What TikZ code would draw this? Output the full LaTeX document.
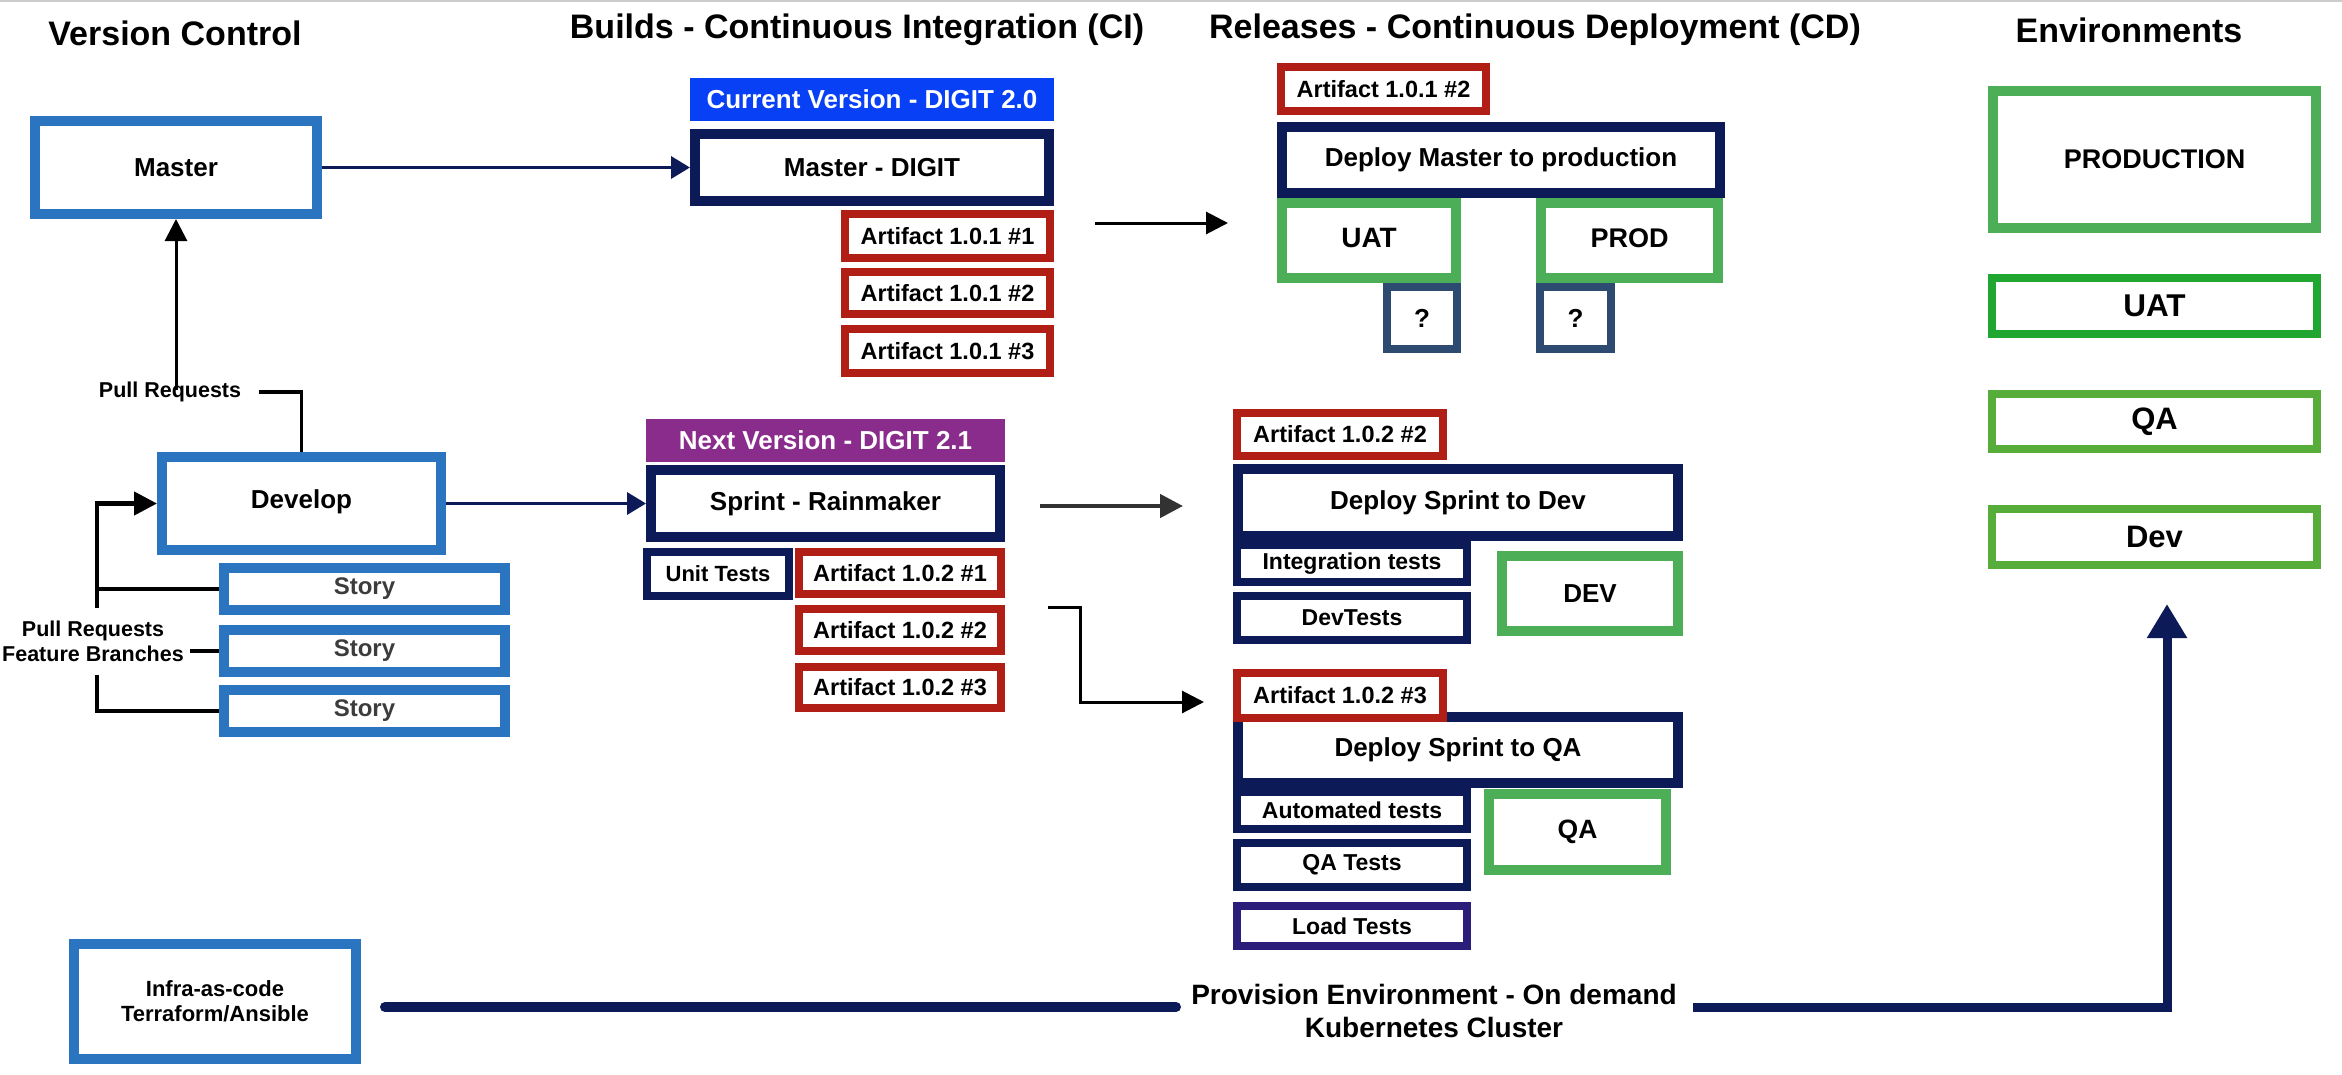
\documentclass[tikz,border=0pt]{standalone}
\usepackage{fontspec}
\setmainfont{Liberation Sans}
\usetikzlibrary{arrows.meta}
\definecolor{cblue}{RGB}{42,116,192}
\definecolor{cnavy}{RGB}{12,26,88}
\definecolor{cred}{RGB}{176,30,22}
\definecolor{cgreen}{RGB}{76,174,87}
\definecolor{cuat}{RGB}{33,166,49}
\definecolor{cqa}{RGB}{86,173,58}
\definecolor{cq}{RGB}{45,75,112}
\definecolor{cver}{RGB}{8,64,246}
\definecolor{cpurple}{RGB}{138,44,140}
\definecolor{cload}{RGB}{43,30,122}
\definecolor{cdark}{RGB}{50,50,50}
\definecolor{cstory}{RGB}{60,60,60}
\begin{document}
\begin{tikzpicture}[x=1pt,y=-1pt,
  box/.style={draw, fill=white, inner sep=0pt, align=center, text=black},
  sz/.style 2 args={minimum width=#1pt, minimum height=#2pt},
  fs/.style={font=\bfseries\fontsize{#1}{#1}\selectfont},
  bluebox/.style={box, draw=cblue, line width=10pt},
  navybox/.style={box, draw=cnavy, line width=10pt},
  navysm/.style={box, draw=cnavy, line width=8pt},
  redbox/.style={box, draw=cred, line width=8pt, fs=23.5},
  greenbox/.style={box, draw=cgreen, line width=10pt},
  uatbox/.style={box, draw=cuat, line width=8pt},
  qabox/.style={box, draw=cqa, line width=8pt},
  qmbox/.style={box, draw=cq, line width=8pt},
  title/.style={inner sep=0pt, fs=34},
  lbl/.style={inner sep=0pt, align=center},
  verlabel/.style={fill=#1, text=white, inner sep=0pt, fs=26},
  navyarrow/.style={draw=cnavy, line width=3.5pt, -{Triangle[length=19pt,width=22pt]}},
  blackarrow/.style={draw=black, line width=3pt, -{Triangle[length=22pt,width=22pt]}},
  blackline/.style={draw=black, line width=3.5pt},
  fbarrow/.style={draw=black, line width=4.5pt, -{Triangle[length=23pt,width=23pt]}},
  grayarrow/.style={draw=cdark, line width=4.5pt, -{Triangle[length=23pt,width=23pt]}},
  bigline/.style={draw=cnavy, line width=10pt},
  bigarrow/.style={draw=cnavy, line width=9pt, -{Triangle[length=34pt,width=38pt]}}
]
\useasboundingbox (0,0) rectangle (2342,1074);
\fill[white] (0,0) rectangle (2342,1074);
\draw[black!20, line width=2pt] (0,1) -- (2342,1);

% titles
\node[title] (tvc) at (175,33) {Version Control};
\node[title] (tci) at (857,30) {Builds - Continuous Integration (CI)};
\node[title] (tcd) at (1535,30) {Releases - Continuous Deployment (CD)};
\node[title] (tenv) at (2129,30) {Environments};

% version control
\node[bluebox, sz={282}{93}, fs=26] (master) at (176,167.5) {Master};
\node[bluebox, sz={279}{93}, fs=26] (develop) at (301.5,503.5) {\raisebox{8pt}{Develop}};
\node[bluebox, sz={281}{42}, fs=24, text=cstory] (story1) at (364.5,589) {Story};
\node[bluebox, sz={281}{42}, fs=24, text=cstory] (story2) at (364.5,651) {Story};
\node[bluebox, sz={281}{42}, fs=24, text=cstory] (story3) at (364.5,711) {Story};
\node[bluebox, sz={282}{115}, fs=22] (infra) at (215,1001.5) {Infra-as-code\\[3pt]Terraform/Ansible};

\node[lbl, fs=21.5] (pr) at (170,392) {Pull Requests};
\node[lbl, fs=21.5] (prfb) at (93,641) {Pull Requests\\[3.5pt]Feature Branches};

% CI
\node[verlabel=cver, sz={364}{43}] (curver) at (872,99.5) {Current Version - DIGIT 2.0};
\node[navybox, sz={354}{67}, fs=26] (mdigit) at (872,167.5) {Master - DIGIT};
\node[redbox, sz={205}{44}] (a11) at (947.5,236) {Artifact 1.0.1 \#1};
\node[redbox, sz={205}{42}] (a12) at (947.5,293) {Artifact 1.0.1 \#2};
\node[redbox, sz={205}{44}] (a13) at (947.5,351) {Artifact 1.0.1 \#3};

\node[verlabel=cpurple, sz={359}{43}] (nextver) at (825.5,440.5) {Next Version - DIGIT 2.1};
\node[navybox, sz={349}{67}, fs=26] (sprint) at (825.5,503.5) {Sprint - Rainmaker};
\node[navysm, sz={142}{44}, fs=22] (unit) at (718,574) {Unit Tests};
\node[redbox, sz={202}{42}] (b21) at (900,573) {Artifact 1.0.2 \#1};
\node[redbox, sz={202}{42}] (b22) at (900,630) {Artifact 1.0.2 \#2};
\node[redbox, sz={202}{41}] (b23) at (900,687.5) {Artifact 1.0.2 \#3};

% CD - production
\node[qmbox, sz={70}{62}, fs=26] (q1) at (1422,318) {?};
\node[qmbox, sz={71}{62}, fs=26] (q2) at (1575.5,318) {?};
\node[navybox, sz={438}{66}, fs=26] (dmaster) at (1501,160) {Deploy Master to production};
\node[redbox, sz={205}{44}] (cda12) at (1383.5,89) {Artifact 1.0.1 \#2};
\node[greenbox, sz={174}{75}, fs=28] (uat) at (1369,240.5) {\raisebox{5pt}{UAT}};
\node[greenbox, sz={177}{75}, fs=27] (prod) at (1629.5,240.5) {\raisebox{5pt}{PROD}};

% CD - dev
\node[navybox, sz={440}{67}, fs=26] (ddev) at (1458,502.5) {Deploy Sprint to Dev};
\node[redbox, sz={206}{43}] (cdb22) at (1340,434.5) {Artifact 1.0.2 \#2};
\node[navysm, sz={230}{37}, fs=23] (integ) at (1352,563.5) {Integration tests};
\node[navysm, sz={230}{44}, fs=23] (devt) at (1352,618) {DevTests};
\node[greenbox, sz={176}{75}, fs=26] (dev) at (1590,593.5) {DEV};

% CD - qa
\node[navybox, sz={440}{66}, fs=26] (dqa) at (1458,750) {Deploy Sprint to QA};
\node[redbox, sz={206}{45}] (cdb23) at (1340,695.5) {Artifact 1.0.2 \#3};
\node[navysm, sz={230}{37}, fs=23] (auto) at (1352,810.5) {Automated tests};
\node[navysm, sz={230}{44}, fs=23] (qat) at (1352,865) {QA Tests};
\node[box, draw=cload, line width=8pt, sz={230}{40}, fs=23] (load) at (1352,926) {Load Tests};
\node[greenbox, sz={177}{76}, fs=26.5] (qa) at (1577.5,832) {QA};

% environments
\node[greenbox, sz={323}{137}, fs=27] (eprod) at (2154.5,159.5) {PRODUCTION};
\node[uatbox, sz={325}{56}, fs=31.5] (euat) at (2154.5,306) {UAT};
\node[qabox, sz={325}{55}, fs=31] (eqa) at (2154.5,421.5) {QA};
\node[qabox, sz={325}{56}, fs=31] (edev) at (2154.5,537) {Dev};

\node[lbl, fs=28] (prov) at (1434,1011) {Provision Environment - On demand\\[5pt]Kubernetes Cluster};

% connectors
\draw[navyarrow] (master.east) -- (mdigit.west);
\draw[navyarrow] (develop.east) -- (sprint.west);
\draw[blackarrow, shorten <=-8pt] (master.south |- pr.north) -- (master.south);
\draw[blackline, shorten <=18pt] (pr.east) -| (develop.north);

\coordinate (fbtop) at (97,608);
\coordinate (fbbot) at (97,675);
\draw[fbarrow] (fbtop) |- (develop.west);
\draw[blackline] (story1.west) -- (story1.west -| fbtop);
\draw[blackline, shorten <=6pt] (prfb.east |- story2.west) -- (story2.west);
\draw[blackline] (fbbot) |- (story3.west);

\coordinate (cia) at (1095,223);
\coordinate (cib) at (1228,223);
\draw[blackarrow] (cia) -- (cib);
\coordinate (cic) at (1040,506);
\coordinate (cid) at (1183,506);
\draw[grayarrow] (cic) -- (cid);
\coordinate (cie) at (1048,607);
\coordinate (cif) at (1204,702);
\draw[blackarrow] (cie) -- ++(32,0) |- (cif);

\coordinate (provL) at (1176,1007);
\coordinate (provR) at (1693,1007);
\coordinate (envtip) at (2167,604);
\draw[bigline, line cap=round] (infra.east |- provL) ++(24,0) -- (provL);
\draw[bigarrow] (provR) -| (envtip);
\end{tikzpicture}
\end{document}
